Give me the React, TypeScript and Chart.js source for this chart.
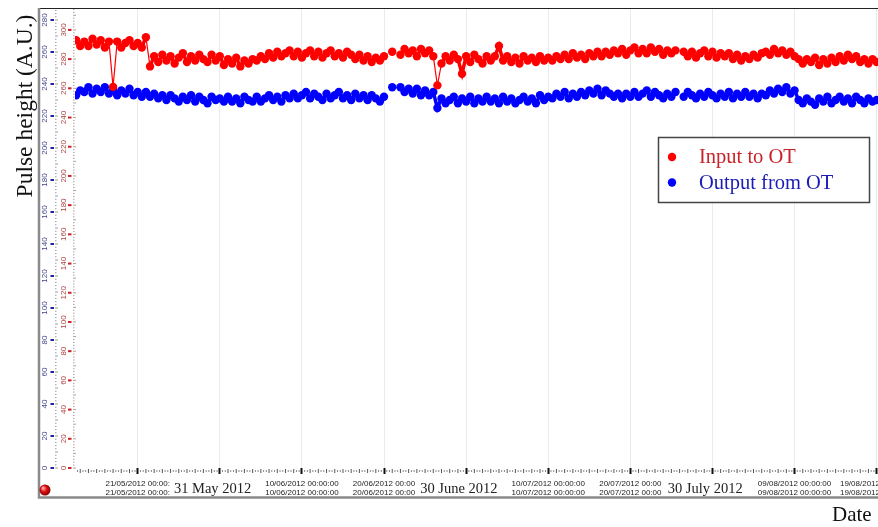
import React, { useEffect, useRef } from 'react';
import { Chart, registerables } from 'chart.js';

Chart.register(...registerables);

// x values are days after 1 May 2012 (day 20 = 21/05/2012)
const SAMPLE_START_DAY = 12.5;
const SAMPLE_STEP_DAYS = 0.5;

// Input to OT (red, inner red axis scale)
const inputToOT: (number | null)[] = [
  293, 289,
  292, 289, 294, 290, 293, 288, 292,
  261,
  292, 288, 291, 293, 289, 291, 288,
  295,
  275,
  282, 278, 283, 279, 282, 277, 281, 284, 278, 282, 279, 283, 280, 278, 283, 279, 282,
  276, 280, 277, 281, 275, 279, 277, 280,
  279, 282, 280, 284, 281, 285, 282, 284,
  286, 282, 285, 281, 284, 286, 282, 285, 281, 284, 286, 282, 284, 281, 285, 283,
  280, 283, 279, 282, 278, 281, 279, 282,
  null, 285, null,
  283, 287, 284, 286, 282, 287, 284, 286, 282,
  262,
  277, 282, 279, 283, 280,
  270,
  282, 278, 283, 280, 277, 282, 279,
  282, 289, 279, 282, 278, 281, 277, 282, 279, 281, 278, 282, 279, 281,
  279, 282, 280, 283, 280, 284, 281, 283, 280, 284, 282, 285, 282, 285, 283, 286,
  284, 287, 283, 286, 288, 284, 287, 284, 288, 285, 287, 283, 286, 284, 286,
  null,
  285, 282, 285, 281, 284, 286, 282, 285, 281, 284, 282, 284,
  280, 283, 279, 282, 280, 283, 281, 284,
  285, 283, 287, 284, 286, 283, 285, 282,
  280, 277, 280, 278, 281, 276, 280, 277, 281, 278, 282, 279, 283, 280, 282, 278, 280, 277, 280, 278,
];

// Output from OT (blue, outer blue axis scale)
const outputFromOT: (number | null)[] = [
  233, 236,
  235, 238, 234, 237, 235, 238, 234,
  236,
  233, 236, 234, 237, 233, 235, 232,
  235,
  232,
  234, 231, 233, 230, 233, 231, 229, 232, 230, 233, 229, 232, 230, 228, 232, 230, 231,
  229, 232, 229, 231, 228, 232, 230, 229,
  232, 229, 231, 233, 230, 232, 229, 233,
  231, 234, 231, 233, 235, 231, 234, 232, 230, 234, 231, 233, 235, 231, 233, 230,
  234, 231, 233, 230, 233, 231, 229, 232,
  null, 238, null,
  238, 235, 237, 234, 237, 233, 236, 233, 235,
  225,
  231, 228, 230, 232, 228,
  231,
  229, 232, 228, 231, 229, 232, 229,
  231, 228, 232, 229, 231, 228, 230, 232, 229, 231, 228, 233, 230, 232,
  231, 234, 232, 235, 231, 234, 232, 235, 233, 236, 234, 237, 233, 236, 234, 232,
  234, 231, 234, 232, 235, 232, 234, 236, 232, 235, 233, 231, 234, 232, 235,
  null,
  232, 235, 233, 231, 234, 232, 235, 233, 231, 234, 232, 235,
  231, 234, 232, 235, 232, 234, 231, 234,
  233, 236, 234, 237, 235, 238, 234, 236,
  230, 228, 231, 229, 227, 231, 229, 232, 228, 230, 232, 229, 231, 228, 232, 230, 228, 231, 229, 230,
];

const seriesLabels = ['Input to OT', 'Output from OT'];
const seriesColors = ['#ff0000', '#0000ff'];
const legendTextColors = ['#c8232b', '#1c1cb4'];

const xTickDays = [20, 30, 40, 50, 60, 70, 80, 90, 100, 110];
const xTickLabels: (string | string[])[] = [
  ['21/05/2012 00:00:', '21/05/2012 00:00:'],
  '31 May 2012    ',
  ['10/06/2012 00:00:00', '10/06/2012 00:00:00'],
  ['20/06/2012 00:00', '20/06/2012 00:00'],
  '30 June 2012    ',
  ['10/07/2012 00:00:00', '10/07/2012 00:00:00'],
  ['20/07/2012 00:00', '20/07/2012 00:00'],
  '30 July 2012    ',
  ['09/08/2012 00:00:00', '09/08/2012 00:00:00'],
  ['19/08/2012 00:00:00', '19/08/2012 00:00:00'],
];
const bigLabelDays = [30, 60, 90];

const blueAxisTicks = [0, 20, 40, 60, 80, 100, 120, 140, 160, 180, 200, 220, 240, 260, 280];
const redAxisTicks = [0, 20, 40, 60, 80, 100, 120, 140, 160, 180, 200, 220, 240, 260, 280, 300];

const X_MIN = 12.364;
const X_MAX = 119.64;
const BLUE_MAX = 287.5;
const RED_MAX = 315;

const toPoints = (vals: (number | null)[]) =>
  vals.map((v, i) => ({ x: SAMPLE_START_DAY + i * SAMPLE_STEP_DAYS, y: v }));

const decorPlugin = {
  id: 'decor',
  beforeDraw(chart: any) {
    const ctx = chart.ctx;
    ctx.save();
    ctx.fillStyle = '#ffffff';
    ctx.fillRect(0, 0, chart.width, chart.height);
    ctx.restore();
  },
  afterDraw(chart: any) {
    const ctx = chart.ctx as CanvasRenderingContext2D;
    const area = chart.chartArea;
    const xS = chart.scales.x;
    const yB = chart.scales.yB;
    const yR = chart.scales.yR;
    ctx.save();

    // frame
    ctx.strokeStyle = '#222';
    ctx.lineWidth = 1;
    ctx.beginPath();
    ctx.moveTo(38, area.top + 0.5);
    ctx.lineTo(chart.width, area.top + 0.5);
    ctx.stroke();
    ctx.strokeStyle = '#8a8a8a';
    ctx.lineWidth = 2.5;
    ctx.beginPath();
    ctx.moveTo(39, area.top);
    ctx.lineTo(39, 497.5);
    ctx.lineTo(chart.width, 497.5);
    ctx.stroke();

    // blue axis (outer)
    for (let v = 0; v <= BLUE_MAX; v += 2) {
      const py = yB.getPixelForValue(v);
      ctx.fillStyle = '#9a9aa8';
      const len = v % 10 === 0 ? 3 : 1.5;
      ctx.fillRect(55, py - 0.5, len, 1);
    }
    ctx.font = '8px "Liberation Sans", Arial, sans-serif';
    for (const v of blueAxisTicks) {
      const py = yB.getPixelForValue(v);
      ctx.fillStyle = '#2222a0';
      ctx.fillRect(50.5, py - 1, 3.5, 2);
      ctx.save();
      ctx.translate(44.5, py);
      ctx.rotate(-Math.PI / 2);
      ctx.fillStyle = '#45458c';
      ctx.textAlign = 'center';
      ctx.textBaseline = 'middle';
      ctx.fillText(String(v), 0, 0);
      ctx.restore();
    }

    // red axis (inner)
    for (let v = 0; v <= RED_MAX; v += 2) {
      const py = yR.getPixelForValue(v);
      ctx.fillStyle = '#b0a0a0';
      const len = v % 10 === 0 ? 3 : 1.5;
      ctx.fillRect(73, py - 0.5, len, 1);
    }
    for (const v of redAxisTicks) {
      const py = yR.getPixelForValue(v);
      ctx.fillStyle = '#cc2222';
      ctx.fillRect(68, py - 1, 3.5, 2);
      ctx.save();
      ctx.translate(64, py);
      ctx.rotate(-Math.PI / 2);
      ctx.fillStyle = '#b04040';
      ctx.textAlign = 'center';
      ctx.textBaseline = 'middle';
      ctx.font = '8px "Liberation Sans", Arial, sans-serif';
      ctx.fillText(String(v), 0, 0);
      ctx.restore();
    }

    // x axis minor ticks (1/3 day)
    const start = Math.ceil(xS.min * 3);
    const end = Math.floor(xS.max * 3);
    for (let k = start; k <= end; k++) {
      const d = k / 3;
      const px = xS.getPixelForValue(d);
      if (k % 3 === 0) {
        if (Math.round(d) % 10 === 0) continue;
        ctx.fillStyle = '#555';
        ctx.fillRect(px - 0.5, area.bottom + 1, 1, 4);
      } else {
        ctx.fillStyle = '#8a8a8a';
        ctx.fillRect(px - 0.5, area.bottom + 2, 1, 2);
      }
    }

    // axis titles
    ctx.fillStyle = '#111';
    ctx.font = '23.5px "Liberation Serif", "Times New Roman", serif';
    ctx.save();
    ctx.translate(32, 106);
    ctx.rotate(-Math.PI / 2);
    ctx.textAlign = 'center';
    ctx.textBaseline = 'alphabetic';
    ctx.fillText('Pulse height (A.U.)', 0, 0);
    ctx.restore();
    ctx.font = '21px "Liberation Serif", "Times New Roman", serif';
    ctx.textAlign = 'left';
    ctx.textBaseline = 'alphabetic';
    ctx.fillText('Date', 832, 521);

    // legend
    const lx = 658, ly = 137, lw = 211, lh = 65;
    ctx.fillStyle = '#ffffff';
    ctx.fillRect(lx, ly, lw, lh);
    ctx.strokeStyle = '#444';
    ctx.lineWidth = 1.5;
    ctx.strokeRect(lx + 0.5, ly + 0.5, lw, lh);
    chart.data.datasets.forEach((ds: any, i: number) => {
      const cy = 157 + i * 25.5;
      ctx.fillStyle = ds.borderColor;
      ctx.beginPath();
      ctx.arc(672, cy, 4.2, 0, Math.PI * 2);
      ctx.fill();
      ctx.fillStyle = legendTextColors[i];
      ctx.font = '20.5px "Liberation Serif", "Times New Roman", serif';
      ctx.textAlign = 'left';
      ctx.textBaseline = 'middle';
      ctx.fillText(ds.label, 699, cy + 1);
    });

    // red ball icon
    const g = ctx.createRadialGradient(43, 488, 1, 45, 490, 6);
    g.addColorStop(0, '#ff9a9a');
    g.addColorStop(0.4, '#e01010');
    g.addColorStop(1, '#7a0000');
    ctx.fillStyle = g;
    ctx.beginPath();
    ctx.arc(45, 490, 5.5, 0, Math.PI * 2);
    ctx.fill();

    ctx.restore();
  },
};

export default function App() {
  const ref = useRef<HTMLCanvasElement | null>(null);
  useEffect(() => {
    if (!ref.current) return;
    const mkDataset = (i: number, vals: (number | null)[], axis: string) => ({
      label: seriesLabels[i],
      data: toPoints(vals) as any,
      yAxisID: axis,
      borderColor: seriesColors[i],
      backgroundColor: seriesColors[i],
      pointBackgroundColor: seriesColors[i],
      pointBorderWidth: 0,
      pointRadius: 4.2,
      borderWidth: 3.5,
      segment: {
        borderWidth: (c: any) => (Math.abs(c.p0.parsed.y - c.p1.parsed.y) > 12 ? 1.2 : 3.5),
      },
      spanGaps: false,
      tension: 0,
    });
    const chart = new Chart(ref.current, {
      type: 'line',
      data: {
        datasets: [mkDataset(0, inputToOT, 'yR'), mkDataset(1, outputFromOT, 'yB')],
      },
      options: {
        responsive: false,
        animation: false,
        devicePixelRatio: 1,
        events: [],
        layout: { padding: { left: 75, top: 8, right: 0, bottom: 30 } },
        plugins: {
          legend: { display: false },
          tooltip: { enabled: false },
          title: { display: false },
        },
        scales: {
          x: {
            type: 'linear',
            min: X_MIN,
            max: X_MAX,
            bounds: 'data',
            afterBuildTicks: (s: any) => {
              s.ticks = xTickDays.map((v) => ({ value: v }));
            },
            afterFit: (s: any) => {
              s.height = 29;
            },
            grid: {
              color: '#ebebeb',
              lineWidth: 1,
              drawTicks: true,
              tickLength: 6,
              tickColor: '#111',
              tickWidth: 2,
            },
            border: { display: false },
            ticks: {
              autoSkip: false,
              maxRotation: 0,
              minRotation: 0,
              padding: 10,
              crossAlign: 'center',
              color: '#222',
              callback: (v: any) => {
                const i = xTickDays.indexOf(Number(v));
                return i >= 0 ? xTickLabels[i] : '';
              },
              font: (c: any) =>
                c.tick && bigLabelDays.includes(c.tick.value)
                  ? { family: '"Liberation Serif", "Times New Roman", serif', size: 14.5, lineHeight: '7.4px' }
                  : { family: '"Liberation Sans", Arial, sans-serif', size: 8, lineHeight: '9.2px' },
            },
          },
          yB: { type: 'linear', display: false, min: 0, max: BLUE_MAX, bounds: 'data' },
          yR: { type: 'linear', display: false, min: 0, max: RED_MAX, bounds: 'data' },
        },
      } as any,
      plugins: [decorPlugin],
    });
    return () => chart.destroy();
  }, []);
  return (
    <div
      style={{
        position: 'fixed',
        left: 0,
        top: 0,
        width: 878,
        height: 527,
        overflow: 'hidden',
        background: '#fff',
      }}
    >
      <canvas ref={ref} width={960} height={527} style={{ display: 'block', width: 960, height: 527 }} />
    </div>
  );
}
